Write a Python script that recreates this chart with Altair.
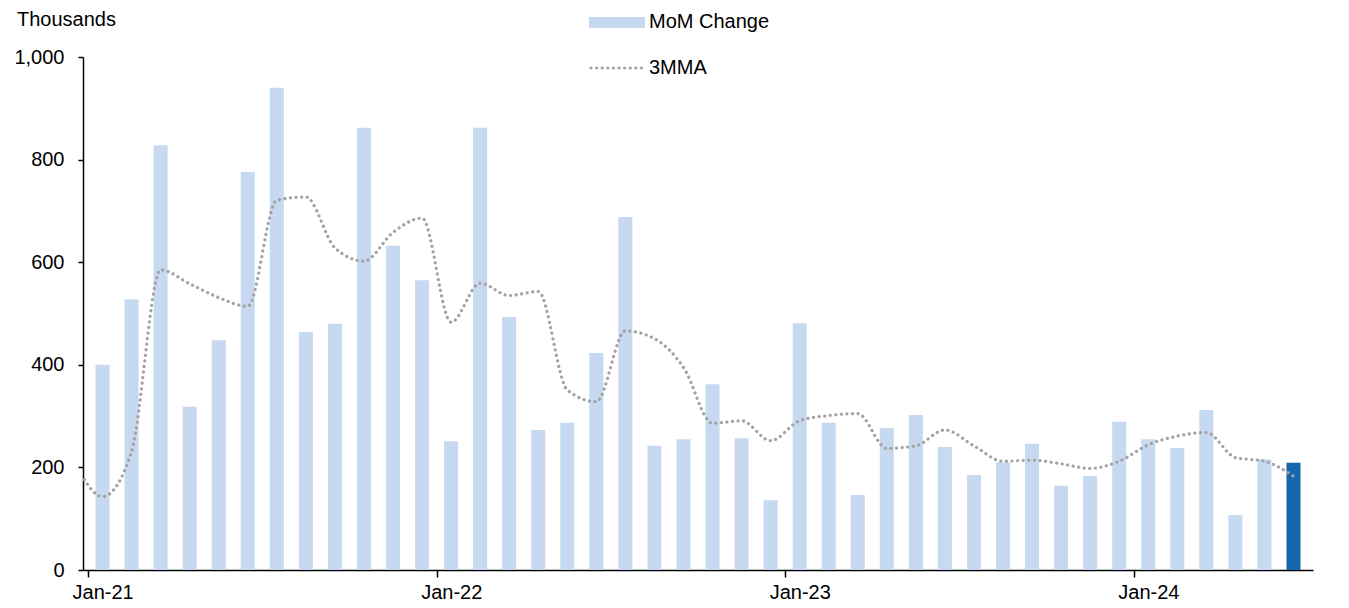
import altair as alt
import pandas as pd

# ---- data ----
years = ["21", "22", "23", "24"]
month_names = ["Jan", "Feb", "Mar", "Apr", "May", "Jun", "Jul", "Aug", "Sep", "Oct", "Nov", "Dec"]
months = [f"{m}-{y}" for y in years for m in month_names][:42]  # Jan-21 .. Jun-24

mom_change = [400, 528, 828, 318, 448, 776, 940, 464, 480, 862, 632, 565,
              251, 862, 493, 273, 287, 423, 688, 242, 255, 362, 257, 136,
              481, 287, 146, 277, 302, 240, 185, 210, 246, 164, 183, 289,
              255, 238, 312, 107, 216, 209]

# 3-month moving average, first value is Dec-20 (drawn clipped at the axis)
mma_months = ["Dec-20"] + months
mma_values = [215, 143, 231, 585, 558, 531, 514, 721, 727, 628, 602, 658, 686,
              483, 559, 535, 543, 351, 328, 466, 451, 395, 286, 291, 252,
              291, 301, 305, 237, 242, 273, 242, 212, 214, 207, 198, 212,
              244, 261, 268, 219, 212, 183]

tick_labels = ["Jan-21", "Jan-22", "Jan-23", "Jan-24"]
y_ticks = [0, 200, 400, 600, 800, 1000]

bars_df = pd.DataFrame({"idx": list(range(len(months))), "month": months, "value": mom_change})
line_df = pd.DataFrame({"idx": [i - 1 for i in range(len(mma_months))], "month": mma_months, "value": mma_values})

FONT = "Liberation Sans"
W, H = 1230, 513
STEP = W / 42.0

label_expr = "[" + ",".join(f"'{t}'" for t in tick_labels) + "][round((datum.value + 0.5) / 12)]"

x_scale = alt.Scale(domain=[-0.5, 41.5], nice=False, zero=False)
y_scale = alt.Scale(domain=[0, 1000], nice=False)

x_axis = alt.Axis(values=[-0.5, 11.5, 23.5, 35.5], labelExpr=label_expr, labelOffset=STEP / 2,
                  tickSize=7, labelPadding=5, grid=False, title=None, domainColor="#000000",
                  tickColor="#000000", domainWidth=1.5, tickWidth=1.5, labelFont=FONT,
                  labelFontSize=20, labelColor="#000000", labelAngle=0)
y_axis = alt.Axis(values=y_ticks, format=",d", tickSize=5, labelPadding=14, grid=False, title=None,
                  domainColor="#000000", tickColor="#000000", domainWidth=1.5, tickWidth=1.5,
                  labelFont=FONT, labelFontSize=20, labelColor="#000000")

bars = alt.Chart(bars_df).mark_bar(size=14).encode(
    x=alt.X("idx:Q", scale=x_scale, axis=x_axis),
    y=alt.Y("value:Q", scale=y_scale, axis=y_axis),
    color=alt.condition(alt.datum.month == "Jun-24", alt.value("#1566AE"), alt.value("#C6D9F0")),
)

line = alt.Chart(line_df).mark_line(
    interpolate="monotone", strokeDash=[0.1, 5.5], strokeCap="round", strokeWidth=3.2,
    color="#A3A3A3", clip=True,
).encode(
    x=alt.X("idx:Q", scale=x_scale),
    y=alt.Y("value:Q", scale=y_scale),
)

one = pd.DataFrame({"a": [0]})

leg_rect = alt.Chart(one).mark_rect(color="#C6D9F0").encode(
    x=alt.value(506), x2=alt.value(562), y=alt.value(-40), y2=alt.value(-29))
leg_line = alt.Chart(one).mark_rule(
    color="#A3A3A3", strokeDash=[0.1, 5.5], strokeCap="round", strokeWidth=3.2).encode(
    x=alt.value(508), x2=alt.value(560), y=alt.value(11))
leg_txt1 = alt.Chart(one).mark_text(text="MoM Change", align="left", baseline="middle",
                                    font=FONT, fontSize=20, color="#000000").encode(
    x=alt.value(566), y=alt.value(-35))
leg_txt2 = alt.Chart(one).mark_text(text="3MMA", align="left", baseline="middle",
                                    font=FONT, fontSize=20, color="#000000").encode(
    x=alt.value(566), y=alt.value(11))
units = alt.Chart(one).mark_text(text="Thousands", align="left", baseline="middle",
                                 font=FONT, fontSize=20, color="#000000").encode(
    x=alt.value(-66), y=alt.value(-37))

chart = alt.layer(bars, line, leg_rect, leg_line, leg_txt1, leg_txt2, units).properties(
    width=W, height=H,
    autosize=alt.AutoSizeParams(type="none"),
    padding={"left": 75, "top": 49, "right": 20, "bottom": 38},
    background="#FFFFFF",
).configure_view(stroke=None)

chart.save("out.html", embed_options={"renderer": "svg", "actions": False})
